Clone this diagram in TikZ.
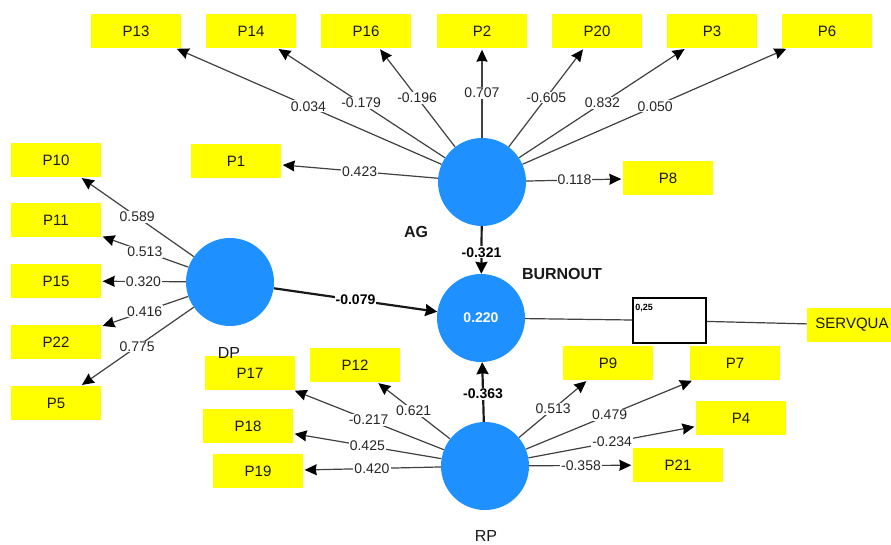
\documentclass[tikz,border=0pt]{standalone}
\usepackage{fontspec}
\setmainfont{Liberation Sans}
\usetikzlibrary{arrows.meta}
\definecolor{lvblue}{RGB}{30,144,255}
\definecolor{indyellow}{RGB}{255,255,0}
\definecolor{edgegray}{RGB}{64,64,64}
\tikzset{
	ind/.style={fill=indyellow,minimum width=90pt,minimum height=34pt,inner sep=0pt,text=black!90,font=\fontsize{15}{17}\selectfont},
	lv/.style={circle,fill=lvblue,minimum size=88pt,inner sep=0pt},
	lvname/.style={text=black!90,font=\fontsize{16}{18}\selectfont},
	ld/.style={draw=edgegray,line width=1.2pt,shorten >=1.5pt,-{Stealth[length=12pt,width=11pt,inset=1pt,color=black]}},
	path/.style={draw=black!90,line width=2.2pt,-{Stealth[length=12pt,width=12pt,inset=1pt,color=black]}},
	lbl/.style={fill=white,inner sep=1pt,text=black!85,font=\fontsize{14}{16}\selectfont},
	plbl/.style={lbl,text=black,font=\fontsize{14}{16}\selectfont\bfseries}
}
\begin{document}
\begin{tikzpicture}[x=1pt,y=-1pt]
			\useasboundingbox(0,0)rectangle(891,545);
			\fill[white](0,0)rectangle(891,545);
			% latent variables
			\node[lv](AG) at(482,182){};
			\node[lv](DP) at(230,282){};
			\node[lv](BURNOUT) at(481,318){};
			\node[lv](RP) at(485,466){};
			% indicators
			\node[ind](P13) at(136,31){P13};
			\node[ind](P14) at(251,31){P14};
			\node[ind](P16) at(366,31){P16};
			\node[ind](P2) at(482,31){P2};
			\node[ind](P20) at(597,31){P20};
			\node[ind](P3) at(712,31){P3};
			\node[ind](P6) at(827,31){P6};
			\node[ind](P1) at(236,161){P1};
			\node[ind](P8) at(668,178){P8};
			\node[ind](P10) at(56,160){P10};
			\node[ind](P11) at(56,220){P11};
			\node[ind](P15) at(56,281){P15};
			\node[ind](P22) at(56,342){P22};
			\node[ind](P5) at(56,403){P5};
			\node[ind](P17) at(250,373){P17};
			\node[ind](P12) at(355,365){P12};
			\node[ind](P18) at(248,426){P18};
			\node[ind](P19) at(258,471){P19};
			\node[ind](P9) at(608,363){P9};
			\node[ind](P7) at(735,363){P7};
			\node[ind](P4) at(741,418){P4};
			\node[ind](P21) at(678,465){P21};
			\node[ind](SERVQUA) at(852,325){SERVQUA};
			\node[draw=black,line width=1.5pt,minimum width=73pt,minimum height=45pt,inner sep=0pt,
				label={[anchor=north west,inner sep=2pt,xshift=1pt,yshift=-5pt,font=\fontsize{9}{10}\selectfont\bfseries]north west:0,25}](cbox) at(669.5,320.5){};
			% AG loadings
			\draw[ld](AG)--node[lbl]{0.034}(P13);
			\draw[ld](AG)--node[lbl]{-0.179}(P14);
			\draw[ld](AG)--node[lbl]{-0.196}(P16);
			\draw[ld](AG)--node[lbl]{0.707}(P2);
			\draw[ld](AG)--node[lbl]{-0.605}(P20);
			\draw[ld](AG)--node[lbl]{0.832}(P3);
			\draw[ld](AG)--node[lbl]{0.050}(P6);
			\draw[ld](AG)--node[lbl]{0.423}(P1);
			\draw[ld](AG)--node[lbl]{0.118}(P8);
			% DP loadings
			\draw[ld](DP)--node[lbl]{0.589}(P10);
			\draw[ld](DP)--node[lbl]{0.513}(P11);
			\draw[ld](DP)--node[lbl]{0.320}(P15);
			\draw[ld](DP)--node[lbl]{0.416}(P22);
			\draw[ld](DP)--node[lbl]{0.775}(P5);
			% RP loadings
			\draw[ld](RP)--node[lbl]{-0.217}(P17);
			\draw[ld](RP)--node[lbl]{0.621}(P12);
			\draw[ld](RP)--node[lbl]{0.425}(P18);
			\draw[ld](RP)--node[lbl]{0.420}(P19);
			\draw[ld](RP)--node[lbl]{0.513}(P9);
			\draw[ld](RP)--node[lbl]{0.479}(P7);
			\draw[ld](RP)--node[lbl]{-0.234}(P4);
			\draw[ld](RP)--node[lbl]{-0.358}(P21);
			% structural paths
			\draw[path](AG)--node[plbl,pos=0.55]{-0.321}(BURNOUT);
			\draw[path](DP)--node[plbl]{-0.079}(BURNOUT);
			\draw[path](RP)--node[plbl,pos=0.47]{-0.363}(BURNOUT);
			\draw[draw=edgegray,line width=1.2pt](BURNOUT)--(cbox)--(SERVQUA);
			% names
			\node[text=white,font=\fontsize{14}{16}\selectfont\bfseries] at(BURNOUT){0.220};
			\node[lvname,font=\fontsize{16}{18}\selectfont\bfseries](AGname) at(416,232){AG};
			\node[lvname](DPname) at(229,353){DP};
			\node[lvname,font=\fontsize{16}{18}\selectfont\bfseries](BOname) at(562,274){BURNOUT};
			\node[lvname](RPname) at(486,536){RP};
\end{tikzpicture}
\end{document}
